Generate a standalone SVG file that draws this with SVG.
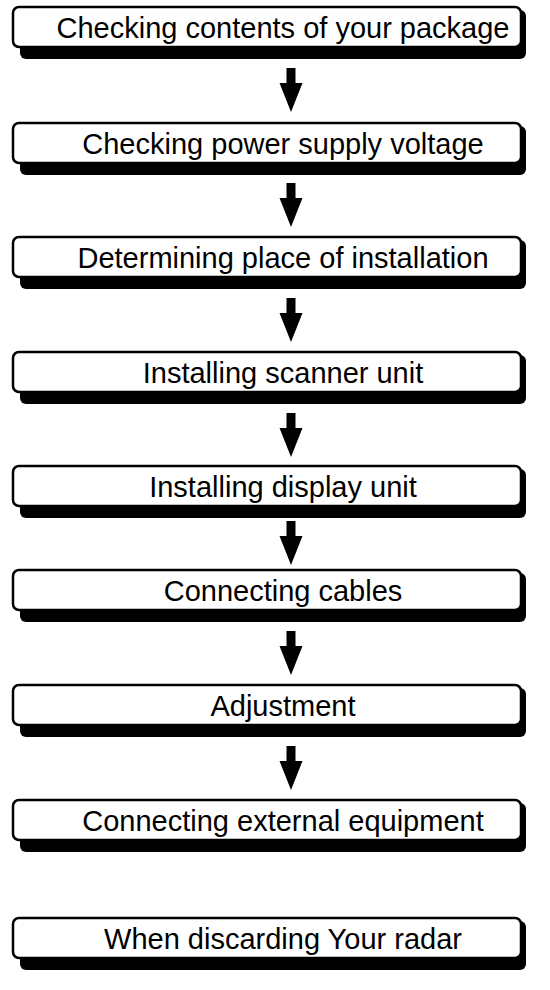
<svg xmlns="http://www.w3.org/2000/svg" width="550" height="990" viewBox="0 0 550 990">
<defs>
<style>
.sh{fill:#000}
.bx{fill:#fff;stroke:#000;stroke-width:2.5}
.t{font-family:"Liberation Sans",Arial,sans-serif;font-size:29px;fill:#000;text-anchor:middle}
.ar{fill:#000}
</style>
<symbol id="node" overflow="visible">
<rect class="sh" x="20" y="3" width="506" height="49" rx="6"/>
<rect class="bx" x="13" y="0" width="508" height="40" rx="6"/>
</symbol>
<path id="arrow" class="ar" d="M286.5,0 H295.5 V15 H302.5 L291,44 L279.5,15 H286.5 Z"/>
</defs>
<g id="connectors">
<use href="#arrow" y="68"/>
<use href="#arrow" y="183"/>
<use href="#arrow" y="298"/>
<use href="#arrow" y="413"/>
<use href="#arrow" y="521"/>
<use href="#arrow" y="631"/>
<use href="#arrow" y="746"/>
</g>
<g id="n1"><use href="#node" y="7"/><text class="t" x="283" y="38">Checking contents of your package</text></g>
<g id="n2"><use href="#node" y="123"/><text class="t" x="283" y="154">Checking power supply voltage</text></g>
<g id="n3"><use href="#node" y="237"/><text class="t" x="283" y="268">Determining place of installation</text></g>
<g id="n4"><use href="#node" y="352"/><text class="t" x="283" y="383">Installing scanner unit</text></g>
<g id="n5"><use href="#node" y="466"/><text class="t" x="283" y="497">Installing display unit</text></g>
<g id="n6"><use href="#node" y="570"/><text class="t" x="283" y="601">Connecting cables</text></g>
<g id="n7"><use href="#node" y="685"/><text class="t" x="283" y="716">Adjustment</text></g>
<g id="n8"><use href="#node" y="800"/><text class="t" x="283" y="831">Connecting external equipment</text></g>
<g id="n9"><use href="#node" y="918"/><text class="t" x="283" y="949">When discarding Your radar</text></g>
</svg>
